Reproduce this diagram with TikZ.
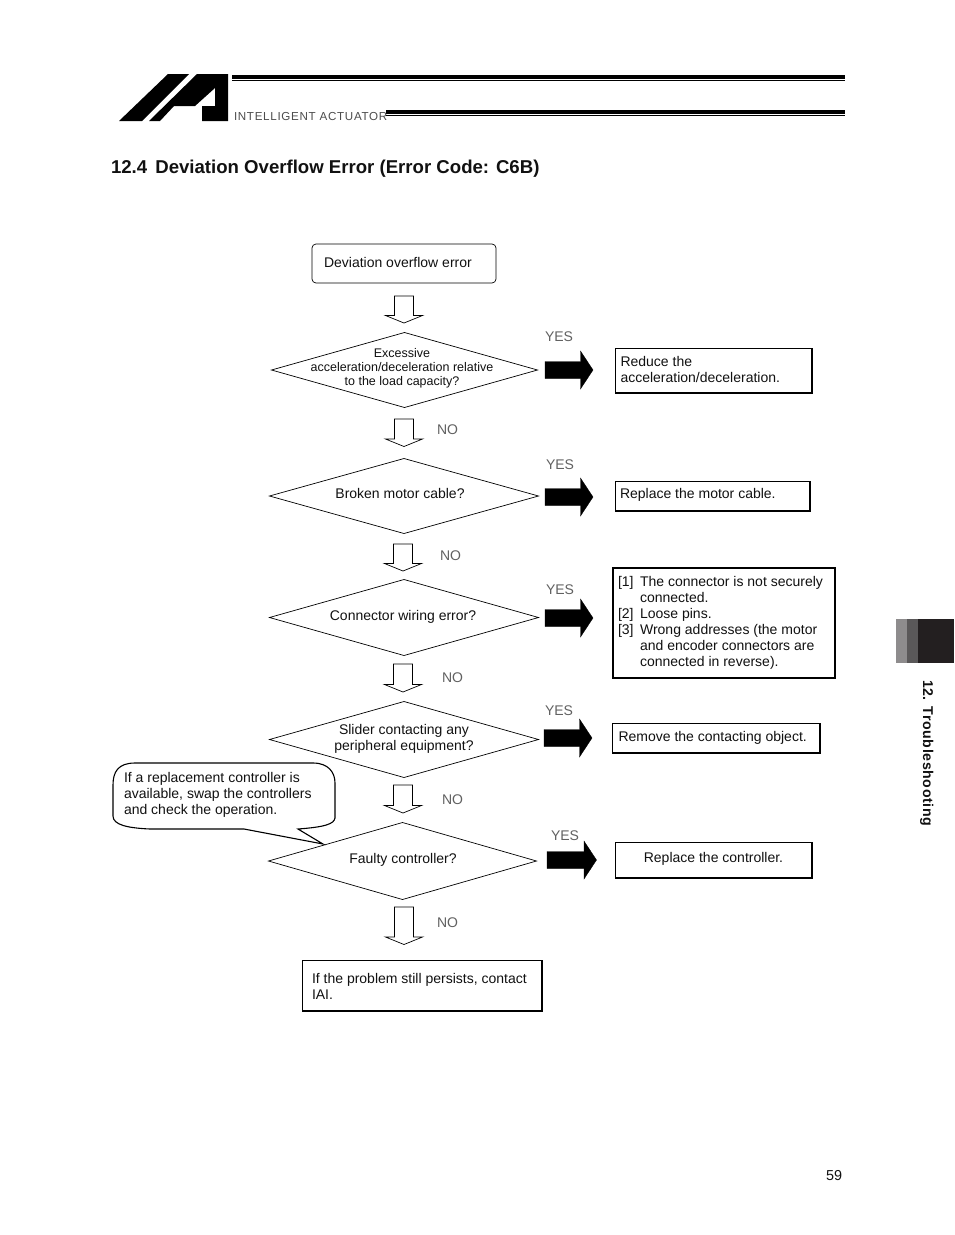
\documentclass[tikz,border=0pt]{standalone}
\usepackage{fontspec}
\setmainfont{Liberation Sans}
\usetikzlibrary{shapes.geometric}
\definecolor{inkc}{HTML}{111111}
\definecolor{tabdark}{HTML}{231F20}
\definecolor{tabmid}{HTML}{5A5859}
\definecolor{tablight}{HTML}{8E8C8D}
\tikzset{
  x=1pt,y=-1pt,
  every node/.style={inner sep=0pt,outer sep=0pt,text=inkc},
  txt/.style={font=\fontsize{14}{16}\selectfont,align=left},
  smalltxt/.style={font=\fontsize{12.5}{14}\selectfont,align=center},
  ctxt/.style={font=\fontsize{14}{16}\selectfont,align=center},
  deci/.style={draw=black,line width=0.7pt,diamond},
  box/.style={draw=black,line width=1.2pt,rectangle},
  boxedge/.style={draw=black,line width=2pt,line cap=rect},
  hollowarrow/.style={draw=black,line width=0.7pt,fill=white,line join=miter},
  solidarrow/.style={draw=black,fill=black,line width=0.3pt},
  yn/.style={font=\fontsize{14}{14}\selectfont,text=black!62},
}
% name, x centre, y top, y tip
\newcommand\hollowdown[4]{%
  \draw[hollowarrow] (#2-9.5,#3) -- (#2+9.5,#3) -- (#2+9.5,#4-7.5) -- (#2+18.5,#4-7.5) -- (#2,#4) -- (#2-18.5,#4-7.5) -- (#2-9.5,#4-7.5) -- cycle;
  \coordinate (#1) at (#2,#4);}
% name, x left, x tip, y centre
\newcommand\solidright[4]{%
  \draw[solidarrow] (#2,#4-8.5) -- (#3-12.5,#4-8.5) -- (#3-12.5,#4-19) -- (#3,#4) -- (#3-12.5,#4+19) -- (#3-12.5,#4+8.5) -- (#2,#4+8.5) -- cycle;
  \coordinate (#1) at (#3,#4);}
\newcommand\heavyedge[1]{\draw[boxedge] (#1.south west) -- (#1.south east) -- (#1.north east);}
\begin{document}
\begin{tikzpicture}
\path[use as bounding box,fill=white] (0,0) rectangle (954,1235);

% logo
\fill[black] (119,121) -- (168,74) -- (189,74) -- (142,121) -- cycle;
\fill[black] (149,121) -- (197,74) -- (228,74) -- (228,121) -- (202,121) -- (202,106) -- (215,106) -- (215,88) -- (195,106) -- (174,106) -- (160,121) -- cycle;
\fill[black] (232,75) rectangle (845,78.5);
\fill[black] (232,80) rectangle (845,81);
\fill[black] (386,110) rectangle (845,113.5);
\fill[black] (386,115) rectangle (845,116);
\node[anchor=base west,font=\fontsize{11.6}{12}\selectfont,text=black!70] (brand) at (234,120.5) {\addfontfeature{LetterSpace=6}INTELLIGENT ACTUATOR};

\node[anchor=base west,font=\bfseries\fontsize{18.6}{20}\selectfont] (title) at (111,173) {12.4\hspace{3pt} Deviation Overflow Error (Error Code: C6B)};

% start
\node[draw=black,line width=0.7pt,rounded corners=4pt,minimum width=184,minimum height=39] (start) at (404,263.5) {};
\node[txt,anchor=west] (startt) at (324,262.5) {Deviation overflow error};

% callout
\draw[black,line width=1.1pt,fill=white]
  (113,785) .. controls (113,772) and (118,763) .. (135,763)
  -- (313,763)
  .. controls (328,763) and (335,772) .. (335,783)
  -- (335,818)
  .. controls (334,824) and (325,827) .. (298,829)
  -- (323,844) -- (244,829) -- (150,829)
  .. controls (128,828) and (113,825) .. (113,816)
  -- cycle;
\node[txt,anchor=west] (call) at (124,795) {If a replacement controller is\\available, swap the controllers\\and check the operation.};

% decisions
\node[deci,minimum width=266,minimum height=75] (d1) at (404.5,370) {};
\node[smalltxt] (d1t) at (402,368) {Excessive\\acceleration/deceleration relative\\to the load capacity?};
\node[deci,minimum width=269,minimum height=75] (d2) at (404,496) {};
\node[ctxt] (d2t) at (400,493.5) {Broken motor cable?};
\node[deci,minimum width=269,minimum height=76] (d3) at (404,617.5) {};
\node[ctxt] (d3t) at (403,617) {Connector wiring error?};
\node[deci,minimum width=269,minimum height=76] (d4) at (404,739.5) {};
\node[ctxt] (d4t) at (404,738.5) {Slider contacting any\\peripheral equipment?};
\node[deci,minimum width=268,minimum height=77] (d5) at (402.5,861) {};
\node[ctxt] (d5t) at (403,860) {Faulty controller?};

% down arrows
\hollowdown{a0}{404}{296}{323}
\hollowdown{a1}{404}{419}{446.5}
\hollowdown{a2}{403}{544}{571}
\hollowdown{a3}{403}{664}{692}
\hollowdown{a4}{403}{785}{813}
\hollowdown{a5}{404}{907}{944.5}

% NO labels
\node[yn,anchor=base west] (n1) at (437,434) {NO};
\node[yn,anchor=base west] (n2) at (440,560) {NO};
\node[yn,anchor=base west] (n3) at (442,682) {NO};
\node[yn,anchor=base west] (n4) at (442,804) {NO};
\node[yn,anchor=base west] (n5) at (437,927) {NO};

% YES arrows
\solidright{b1}{545}{593}{370}
\solidright{b2}{545}{593}{497}
\solidright{b3}{545}{593}{618}
\solidright{b4}{544}{592}{738}
\solidright{b5}{547}{596.5}{860}

\node[yn,anchor=base west] (y1) at (545,341) {YES};
\node[yn,anchor=base west] (y2) at (546,469) {YES};
\node[yn,anchor=base west] (y3) at (546,594) {YES};
\node[yn,anchor=base west] (y4) at (545,715) {YES};
\node[yn,anchor=base west] (y5) at (551,840) {YES};

% result boxes
\node[box,minimum width=196,minimum height=44] (r1) at (713.7,370.7) {};\heavyedge{r1}
\node[txt,anchor=west] (r1t) at (620.5,369.5) {Reduce the\\acceleration/deceleration.};
\node[box,minimum width=194,minimum height=29] (r2) at (712.7,496.2) {};\heavyedge{r2}
\node[txt,anchor=west] (r2t) at (620,495) {Replace the motor cable.};
\node[box,line width=2pt,minimum width=222,minimum height=110] (r3) at (723.7,623) {};
\node[txt,anchor=north west] (r3t) at (618,575) {\begin{tabular}{@{}l@{\hspace{6.5pt}}l@{}}
[1] & The connector is not securely\\
    & connected.\\
{[2]} & Loose pins.\\
{[3]} & Wrong addresses (the motor\\
    & and encoder connectors are\\
    & connected in reverse).
\end{tabular}};
\node[box,minimum width=207,minimum height=29] (r4) at (716.2,738.2) {};\heavyedge{r4}
\node[txt,anchor=west] (r4t) at (618.5,737.5) {Remove the contacting object.};
\node[box,minimum width=196,minimum height=35] (r5) at (713.7,860.2) {};\heavyedge{r5}
\node[ctxt] (r5t) at (713.5,858.5) {Replace the controller.};
\node[box,minimum width=239,minimum height=50] (end) at (422.2,985.7) {};\heavyedge{end}
\node[txt,anchor=west] (endt) at (312,986) {If the problem still persists, contact\\IAI.};

% chapter tab
\fill[tablight] (896,619) rectangle (907,663);
\fill[tabmid] (907,619) rectangle (918,663);
\fill[tabdark] (918,619) rectangle (953.5,663);
\node[rotate=-90,anchor=base west,font=\bfseries\fontsize{14.2}{15}\selectfont] (chap) at (923,680) {\addfontfeature{LetterSpace=4}12. Troubleshooting};

\node[anchor=base west,font=\fontsize{14.4}{16}\selectfont] (page) at (826,1180) {59};
\end{tikzpicture}
\end{document}
